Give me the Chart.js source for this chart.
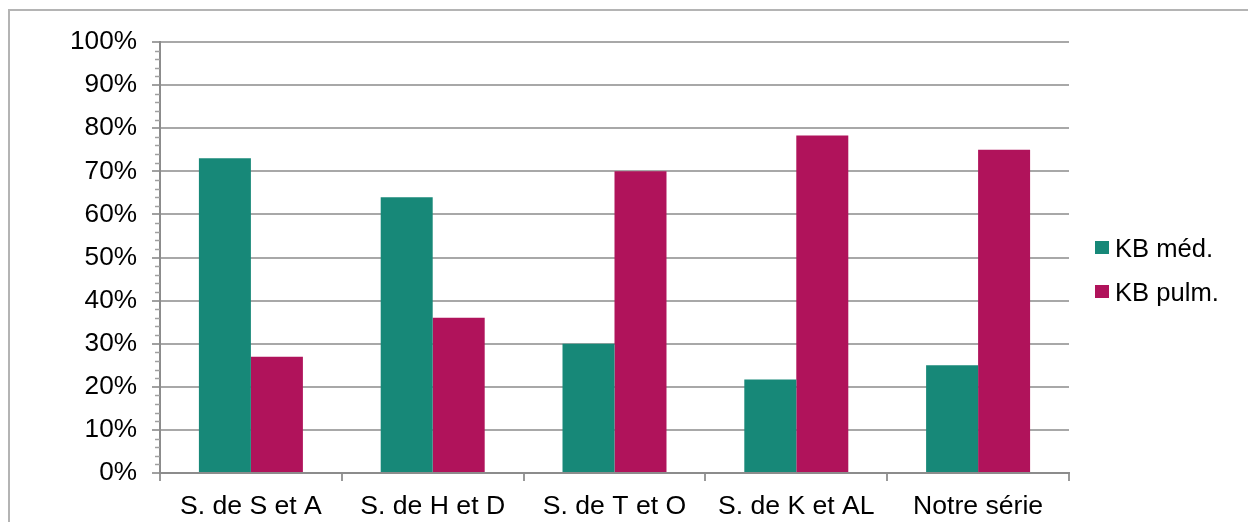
<!DOCTYPE html>
<html>
<head>
<meta charset="utf-8">
<script src="https://cdn.jsdelivr.net/npm/chart.js@4/dist/chart.umd.min.js"></script>
<style>
  html, body { margin: 0; padding: 0; background: #fff; }
  #wrap { position: relative; width: 1248px; height: 522px; overflow: hidden; background: #fff; }
  #frame { position: absolute; left: 8px; top: 9px; width: 1300px; height: 600px; border: 2px solid #b4b4b4; box-sizing: border-box; }
  #chart { position: absolute; left: 0; top: 0; }
  #legend { position: absolute; left: 1095px; top: 233px; font-family: "Liberation Sans", Arial, sans-serif; font-size: 25.6px; color: #000; }
  .item { position: relative; height: 44px; line-height: 30px; padding-left: 20px; white-space: nowrap; }
  .swatch { position: absolute; left: 0; top: 8px; width: 14px; height: 13px; }
</style>
</head>
<body>
<div id="wrap">
  <div id="frame"></div>
  <canvas id="chart" width="1248" height="522"></canvas>
  <div id="legend"></div>
</div>
<script>
// Study series (categories) and the share of each KB type, in percent
const categories = ['S. de S et A', 'S. de H et D', 'S. de T et O', 'S. de K et AL', 'Notre série'];
const seriesNames = ['KB méd.', 'KB pulm.'];
const kbMed = [73, 64, 30, 21.7, 25];
const kbPulm = [27, 36, 70, 78.3, 75];
const yTicks = [0, 10, 20, 30, 40, 50, 60, 70, 80, 90, 100];
const minorStep = 2;

const colors = ['#178878', '#b0135b'];
const FONT = '"Liberation Sans", Arial, sans-serif';

// short minor tick marks on the value axis, every 2%
const minorTicks = {
  id: 'minorTicks',
  afterDraw(chart) {
    const y = chart.scales.y;
    const ctx = chart.ctx;
    ctx.save();
    ctx.strokeStyle = '#a0a0a0';
    ctx.lineWidth = 1.5;
    for (let v = 0; v <= 100; v += minorStep) {
      if (v % 10 === 0) continue;
      const py = Math.round(y.getPixelForValue(v)) + 0.5;
      ctx.beginPath();
      ctx.moveTo(y.right - 5, py);
      ctx.lineTo(y.right, py);
      ctx.stroke();
    }
    ctx.restore();
  }
};

const chart = new Chart(document.getElementById('chart'), {
  type: 'bar',
  data: {
    labels: categories,
    datasets: [
      { label: seriesNames[0], data: kbMed, backgroundColor: colors[0], borderWidth: 0 },
      { label: seriesNames[1], data: kbPulm, backgroundColor: colors[1], borderWidth: 0 }
    ]
  },
  options: {
    responsive: false,
    animation: false,
    events: [],
    layout: { padding: { left: 70, top: 42, right: 179, bottom: 0 } },
    datasets: { bar: { categoryPercentage: 0.572, barPercentage: 1.0 } },
    plugins: { legend: { display: false }, tooltip: { enabled: false } },
    scales: {
      x: {
        grid: { display: true, offset: true, drawOnChartArea: false, drawTicks: true, tickLength: 8, color: '#999999', lineWidth: 2 },
        border: { display: true, color: '#8c8c8c', width: 2 },
        ticks: { color: '#000', font: { family: FONT, size: 26.6 }, padding: 10, maxRotation: 0, autoSkip: false },
        afterFit(scale) { scale.height = 49; }
      },
      y: {
        min: 0, max: 100,
        afterBuildTicks(scale) { scale.ticks = yTicks.map(v => ({ value: v })); },
        grid: { color: '#a8a8a8', lineWidth: 2, tickLength: 8, tickColor: '#a0a0a0' },
        border: { display: true, color: '#8c8c8c', width: 2 },
        ticks: { color: '#000', font: { family: FONT, size: 26.2 }, padding: 15, callback: v => v + '%' },
        afterFit(scale) { scale.width = 90; }
      }
    }
  },
  plugins: [minorTicks]
});

// legend built from the series names and colours
const legend = document.getElementById('legend');
seriesNames.forEach((name, i) => {
  const item = document.createElement('div');
  item.className = 'item';
  const sw = document.createElement('span');
  sw.className = 'swatch';
  sw.style.background = colors[i];
  item.appendChild(sw);
  item.appendChild(document.createTextNode(name));
  legend.appendChild(item);
});
</script>
</body>
</html>
